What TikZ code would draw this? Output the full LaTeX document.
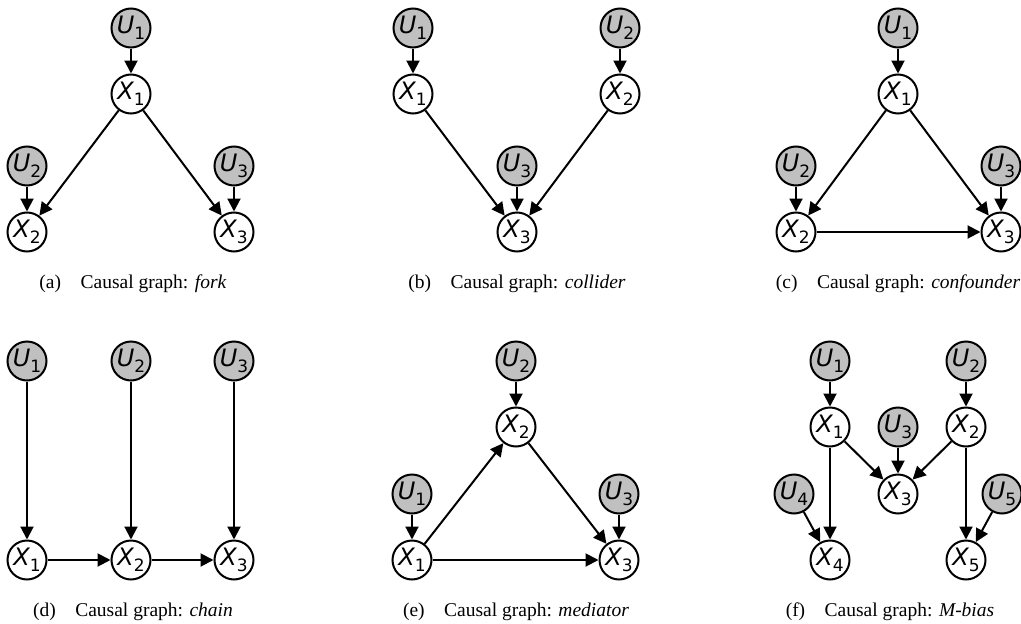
\documentclass[tikz,border=0pt]{standalone}
\usepackage{fontspec}
\setmainfont{Liberation Serif}
\newfontfamily\djsans{DejaVu Sans}
\usetikzlibrary{arrows.meta}
\definecolor{latent}{HTML}{C0C0C0}

% variable label: oblique letter with upright lowered index
\newcommand{\nlab}[2]{{\djsans\fontsize{24}{24}\selectfont\itshape #1\raisebox{-0.25em}{\upshape\fontsize{17}{17}\selectfont #2}}}

\tikzset{
  obs/.style={circle, draw, line width=2pt, fill=white, minimum size=39pt, inner sep=0pt},
  lat/.style={obs, fill=latent},
  edge/.style={line width=2pt, -{Triangle[length=13pt,width=13pt]}},
  capt/.style={font=\fontsize{19.5}{22}\selectfont, anchor=center, inner sep=0pt}
}

\begin{document}
\begin{tikzpicture}[x=1pt, y=-1pt]
\useasboundingbox (0,0) rectangle (1021,624);

% (a) fork
\node[lat] (aU1) at (131,28)  {\nlab{U}{1}};
\node[obs] (aX1) at (131,94)  {\nlab{X}{1}};
\node[lat] (aU2) at (27,166)  {\nlab{U}{2}};
\node[obs] (aX2) at (27,232)  {\nlab{X}{2}};
\node[lat] (aU3) at (234,166) {\nlab{U}{3}};
\node[obs] (aX3) at (234,232) {\nlab{X}{3}};
\draw[edge] (aU1) -- (aX1);
\draw[edge] (aX1) -- (aX2);
\draw[edge] (aX1) -- (aX3);
\draw[edge] (aU2) -- (aX2);
\draw[edge] (aU3) -- (aX3);
\node[capt] (acap) at (133,284) {(a)\hspace{1em}Causal graph: \textit{fork}};

% (b) collider
\node[lat] (bU1) at (413,28)  {\nlab{U}{1}};
\node[obs] (bX1) at (413,94)  {\nlab{X}{1}};
\node[lat] (bU2) at (620,28)  {\nlab{U}{2}};
\node[obs] (bX2) at (620,94)  {\nlab{X}{2}};
\node[lat] (bU3) at (517,166) {\nlab{U}{3}};
\node[obs] (bX3) at (517,232) {\nlab{X}{3}};
\draw[edge] (bU1) -- (bX1);
\draw[edge] (bU2) -- (bX2);
\draw[edge] (bX1) -- (bX3);
\draw[edge] (bX2) -- (bX3);
\draw[edge] (bU3) -- (bX3);
\node[capt] (bcap) at (517,284) {(b)\hspace{1em}Causal graph: \textit{collider}};

% (c) confounder
\node[lat] (cU1) at (898,28)   {\nlab{U}{1}};
\node[obs] (cX1) at (898,94)   {\nlab{X}{1}};
\node[lat] (cU2) at (796,166)  {\nlab{U}{2}};
\node[obs] (cX2) at (796,232)  {\nlab{X}{2}};
\node[lat] (cU3) at (1001,166) {\nlab{U}{3}};
\node[obs] (cX3) at (1001,232) {\nlab{X}{3}};
\draw[edge] (cU1) -- (cX1);
\draw[edge] (cX1) -- (cX2);
\draw[edge] (cX1) -- (cX3);
\draw[edge] (cU2) -- (cX2);
\draw[edge] (cU3) -- (cX3);
\draw[edge] (cX2) -- (cX3);
\node[capt] (ccap) at (898,284) {(c)\hspace{1em}Causal graph: \textit{confounder}};

% (d) chain
\node[lat] (dU1) at (27,361)  {\nlab{U}{1}};
\node[obs] (dX1) at (27,560)  {\nlab{X}{1}};
\node[lat] (dU2) at (131,361) {\nlab{U}{2}};
\node[obs] (dX2) at (131,560) {\nlab{X}{2}};
\node[lat] (dU3) at (234,361) {\nlab{U}{3}};
\node[obs] (dX3) at (234,560) {\nlab{X}{3}};
\draw[edge] (dU1) -- (dX1);
\draw[edge] (dU2) -- (dX2);
\draw[edge] (dU3) -- (dX3);
\draw[edge] (dX1) -- (dX2);
\draw[edge] (dX2) -- (dX3);
\node[capt] (dcap) at (133,612) {(d)\hspace{1em}Causal graph: \textit{chain}};

% (e) mediator
\node[lat] (eU2) at (516,361) {\nlab{U}{2}};
\node[obs] (eX2) at (516,427) {\nlab{X}{2}};
\node[lat] (eU1) at (412,494) {\nlab{U}{1}};
\node[obs] (eX1) at (412,560) {\nlab{X}{1}};
\node[lat] (eU3) at (619,494) {\nlab{U}{3}};
\node[obs] (eX3) at (619,560) {\nlab{X}{3}};
\draw[edge] (eU2) -- (eX2);
\draw[edge] (eU1) -- (eX1);
\draw[edge] (eU3) -- (eX3);
\draw[edge] (eX1) -- (eX2);
\draw[edge] (eX2) -- (eX3);
\draw[edge] (eX1) -- (eX3);
\node[capt] (ecap) at (516,612) {(e)\hspace{1em}Causal graph: \textit{mediator}};

% (f) M-bias
\node[lat] (fU1) at (830,361)  {\nlab{U}{1}};
\node[obs] (fX1) at (830,427)  {\nlab{X}{1}};
\node[lat] (fU2) at (966,361)  {\nlab{U}{2}};
\node[obs] (fX2) at (966,427)  {\nlab{X}{2}};
\node[lat] (fU3) at (898,427)  {\nlab{U}{3}};
\node[obs] (fX3) at (898,494)  {\nlab{X}{3}};
\node[lat] (fU4) at (794,494)  {\nlab{U}{4}};
\node[obs] (fX4) at (830,560)  {\nlab{X}{4}};
\node[lat] (fU5) at (1002,494) {\nlab{U}{5}};
\node[obs] (fX5) at (966,560)  {\nlab{X}{5}};
\draw[edge] (fU1) -- (fX1);
\draw[edge] (fU2) -- (fX2);
\draw[edge] (fX1) -- (fX3);
\draw[edge] (fX2) -- (fX3);
\draw[edge] (fU3) -- (fX3);
\draw[edge] (fX1) -- (fX4);
\draw[edge] (fU4) -- (fX4);
\draw[edge] (fX2) -- (fX5);
\draw[edge] (fU5) -- (fX5);
\node[capt] (fcap) at (890,612) {(f)\hspace{1em}Causal graph: \textit{M-bias}};
\end{tikzpicture}
\end{document}
